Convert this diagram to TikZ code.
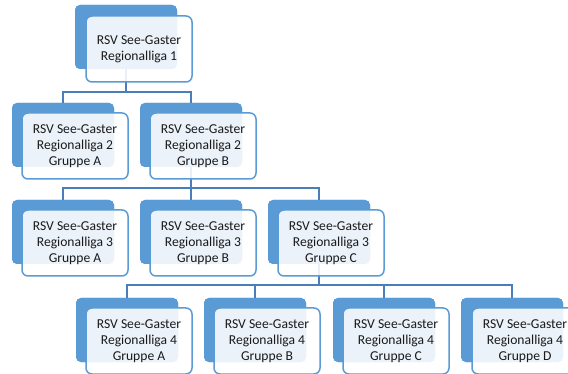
\documentclass[tikz,border=0pt]{standalone}
\usepackage{fontspec}
\setmainfont{Carlito}
\definecolor{backblue}{HTML}{5B9BD5}
\definecolor{edgeblue}{HTML}{5B9BD5}
\definecolor{linkblue}{HTML}{4A7EBA}
\definecolor{txt}{HTML}{1A1A1A}
\tikzset{
  backbox/.style={fill=backblue, rounded corners=5pt, minimum width=102pt, minimum height=64pt, anchor=north west, inner sep=0pt, outer sep=0pt},
  frontbox/.style={draw=edgeblue, line width=1.5pt, fill=white, fill opacity=0.88, text opacity=1, rounded corners=6pt, minimum width=106pt, minimum height=66pt, anchor=north west, inner sep=0pt, outer sep=0pt, align=center, text=txt, font=\fontsize{13.6}{16}\selectfont},
  link/.style={draw=linkblue, line width=1.8pt}
}
\begin{document}
\begin{tikzpicture}[x=1pt,y=-1pt]
\clip (0,0) rectangle (568,374);
\useasboundingbox (0,0) rectangle (568,374);
% junction coordinates
\coordinate (j1) at (0,92);
\coordinate (j2) at (0,188);
\coordinate (j3) at (0,285);
% back boxes (anchors for connectors)
\node[backbox] (b1) at (75,5) {};
\node[backbox] (b2a) at (12,103) {};
\node[backbox] (b2b) at (140,103) {};
\node[backbox] (b3a) at (12,200) {};
\node[backbox] (b3b) at (140,200) {};
\node[backbox] (b3c) at (268,200) {};
\node[backbox] (b4a) at (76,298) {};
\node[backbox] (b4b) at (204,298) {};
\node[backbox] (b4c) at (333,298) {};
\node[backbox] (b4d) at (461,298) {};
% connectors
\path[link] (b1.south) -- (b1.south |- j1) -| (b2a.north);
\path[link] (b1.south |- j1) -| (b2b.north);
\path[link] (b2b.south) -- (b2b.south |- j2) -| (b3a.north);
\path[link] (b2b.south |- j2) -| (b3b.north);
\path[link] (b2b.south |- j2) -| (b3c.north);
\path[link] (b3c.south) -- (b3c.south |- j3) -| (b4a.north);
\path[link] (b3c.south |- j3) -| (b4b.north);
\path[link] (b3c.south |- j3) -| (b4c.north);
\path[link] (b3c.south |- j3) -| (b4d.north);
% back boxes again, over the connector ends
\node[backbox] (c1) at (75,5) {};
\node[backbox] (c2a) at (12,103) {};
\node[backbox] (c2b) at (140,103) {};
\node[backbox] (c3a) at (12,200) {};
\node[backbox] (c3b) at (140,200) {};
\node[backbox] (c3c) at (268,200) {};
\node[backbox] (c4a) at (76,298) {};
\node[backbox] (c4b) at (204,298) {};
\node[backbox] (c4c) at (333,298) {};
\node[backbox] (c4d) at (461,298) {};
% front boxes
\node[frontbox] (f1) at (86,16) {RSV See-Gaster\\Regionalliga 1};
\node[frontbox] (f2a) at (22,113) {RSV See-Gaster\\Regionalliga 2\\Gruppe A};
\node[frontbox] (f2b) at (150,113) {RSV See-Gaster\\Regionalliga 2\\Gruppe B};
\node[frontbox] (f3a) at (22,210) {RSV See-Gaster\\Regionalliga 3\\Gruppe A};
\node[frontbox] (f3b) at (150,210) {RSV See-Gaster\\Regionalliga 3\\Gruppe B};
\node[frontbox] (f3c) at (278,210) {RSV See-Gaster\\Regionalliga 3\\Gruppe C};
\node[frontbox] (f4a) at (86,308) {RSV See-Gaster\\Regionalliga 4\\Gruppe A};
\node[frontbox] (f4b) at (214,308) {RSV See-Gaster\\Regionalliga 4\\Gruppe B};
\node[frontbox] (f4c) at (343,308) {RSV See-Gaster\\Regionalliga 4\\Gruppe C};
\node[frontbox] (f4d) at (472,308) {RSV See-Gaster\\Regionalliga 4\\Gruppe D};
\end{tikzpicture}
\end{document}
